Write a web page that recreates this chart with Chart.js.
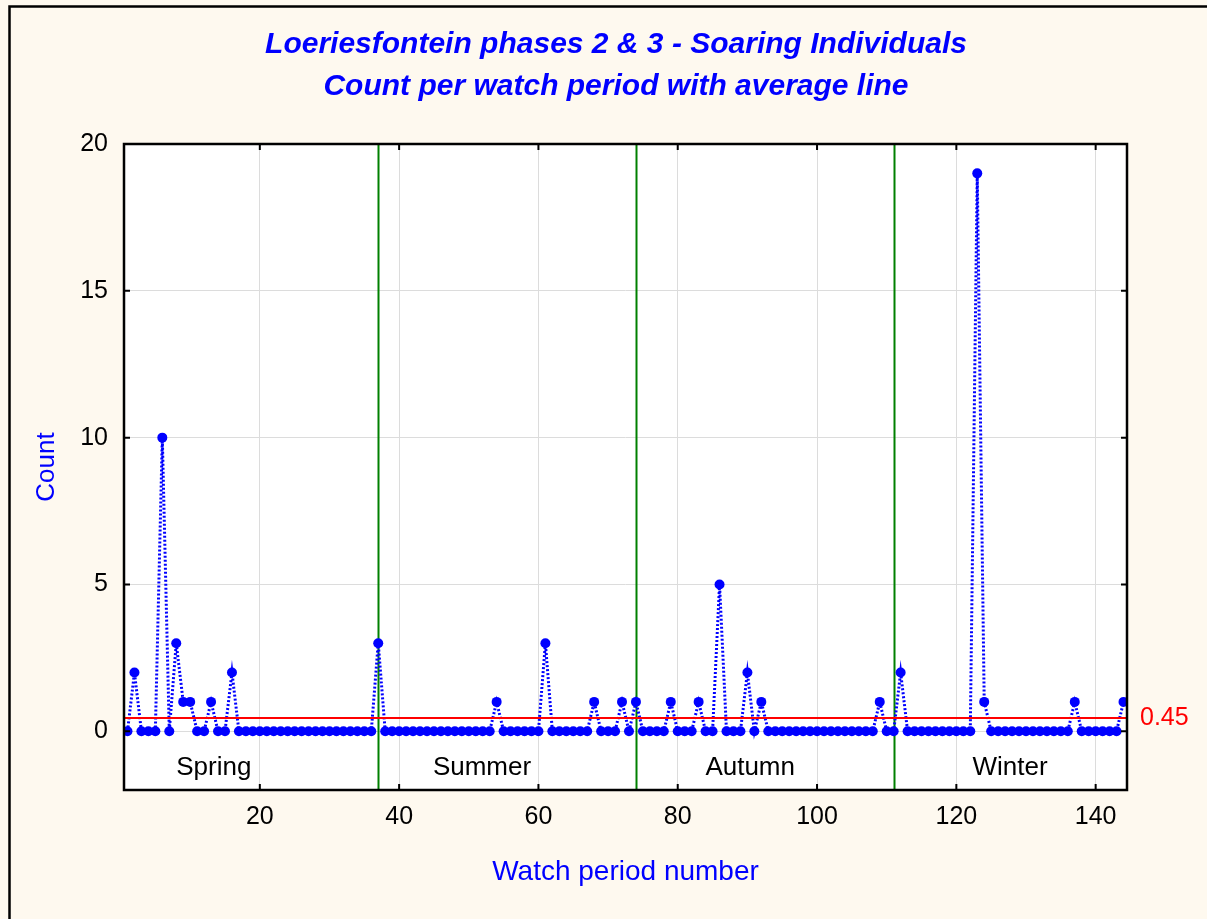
<!DOCTYPE html>
<html>
<head>
<meta charset="utf-8">
<title>Loeriesfontein phases 2 &amp; 3 - Soaring Individuals</title>
<script src="https://cdn.jsdelivr.net/npm/chart.js@4.4.0/dist/chart.umd.min.js"></script>
<style>
  html, body { margin: 0; padding: 0; background: #FEF9EF; }
  #wrap { width: 1207px; height: 919px; }
  canvas { display: block; }
</style>
</head>
<body>
<div id="wrap"><canvas id="chart" width="1207" height="919"></canvas></div>
<script>
// Soaring individuals counted in each watch period, grouped by season
const springCounts = [0, 2, 0, 0, 0, 10, 0, 3, 1, 1, 0, 0, 1, 0, 0, 2,
                      0, 0, 0, 0, 0, 0, 0, 0, 0, 0, 0, 0, 0, 0, 0, 0, 0, 0, 0, 0];           // periods 1-36
const summerCounts = [3, 0, 0, 0, 0, 0, 0, 0, 0, 0, 0, 0, 0, 0, 0, 0, 0, 1, 0, 0, 0, 0,
                      0, 0, 3, 0, 0, 0, 0, 0, 0, 1, 0, 0, 0, 1, 0];                        // periods 37-73
const autumnCounts = [1, 0, 0, 0, 0, 1, 0, 0, 0, 1, 0, 0, 5, 0, 0, 0, 2, 0, 1,
                      0, 0, 0, 0, 0, 0, 0, 0, 0, 0, 0, 0, 0, 0, 0, 0, 1, 0];               // periods 74-110
const winterCounts = [0, 2, 0, 0, 0, 0, 0, 0, 0, 0, 0, 0, 19, 1, 0, 0, 0, 0, 0, 0,
                      0, 0, 0, 0, 0, 0, 1, 0, 0, 0, 0, 0, 0, 1];                           // periods 111-144

const seasonNames = ['Spring', 'Summer', 'Autumn', 'Winter'];
const seasonStarts = [37, 74, 111];          // first watch period of summer, autumn, winter
const seasonLabelPeriod = [13.4, 51.9, 90.4, 127.7];
const seasonLabelCount = -1.25;
const averageCount = 0.45;

const xTicks = [20, 40, 60, 80, 100, 120, 140];
const yTicks = [0, 5, 10, 15, 20];

const counts = [...springCounts, ...summerCounts, ...autumnCounts, ...winterCounts];
const periods = counts.map((_, i) => i + 1);

const FONT = "'Liberation Sans', Arial, Helvetica, sans-serif";
const BLUE = '#0000FF';

const decorations = {
  id: 'decorations',
  beforeDraw(chart) {
    const { ctx, chartArea: a } = chart;
    ctx.save();
    ctx.fillStyle = '#FEF9EF';
    ctx.fillRect(0, 0, chart.width, chart.height);
    ctx.strokeStyle = '#000';
    ctx.lineWidth = 2.5;
    ctx.strokeRect(9.5, 6.5, chart.width + 20, chart.height + 20);
    ctx.fillStyle = '#FFFFFF';
    ctx.fillRect(a.left, a.top, a.right - a.left, a.bottom - a.top);
    ctx.restore();
  },
  beforeDatasetsDraw(chart) {
    const { ctx, chartArea: a, scales: { x, y } } = chart;
    ctx.save();
    // season dividers
    ctx.strokeStyle = '#008000';
    ctx.lineWidth = 2;
    seasonStarts.forEach(p => {
      const px = Math.round(x.getPixelForValue(p)) + 0.5;
      ctx.beginPath();
      ctx.moveTo(px, a.top);
      ctx.lineTo(px, a.bottom);
      ctx.stroke();
    });
    // season names
    ctx.fillStyle = '#000';
    ctx.font = `26px ${FONT}`;
    ctx.textAlign = 'center';
    ctx.textBaseline = 'middle';
    seasonNames.forEach((name, i) => {
      ctx.fillText(name, x.getPixelForValue(seasonLabelPeriod[i]), y.getPixelForValue(seasonLabelCount));
    });
    ctx.restore();
  },
  afterDatasetsDraw(chart) {
    const { ctx, chartArea: a, scales: { x, y } } = chart;
    ctx.save();
    // average line
    const py = y.getPixelForValue(averageCount);
    ctx.strokeStyle = '#FF0000';
    ctx.lineWidth = 2;
    ctx.beginPath();
    ctx.moveTo(a.left, py);
    ctx.lineTo(a.right, py);
    ctx.stroke();
    // inward tick marks on all four sides
    ctx.strokeStyle = '#000';
    ctx.lineWidth = 2;
    const len = 6;
    xTicks.forEach(v => {
      const px = x.getPixelForValue(v);
      ctx.beginPath();
      ctx.moveTo(px, a.bottom); ctx.lineTo(px, a.bottom - len);
      ctx.moveTo(px, a.top); ctx.lineTo(px, a.top + len);
      ctx.stroke();
    });
    yTicks.forEach(v => {
      const pyt = y.getPixelForValue(v);
      ctx.beginPath();
      ctx.moveTo(a.left, pyt); ctx.lineTo(a.left + len, pyt);
      ctx.moveTo(a.right, pyt); ctx.lineTo(a.right - len, pyt);
      ctx.stroke();
    });
    // plot frame
    ctx.lineWidth = 2.5;
    ctx.strokeRect(a.left, a.top, a.right - a.left, a.bottom - a.top);
    ctx.restore();
  }
};

new Chart(document.getElementById('chart'), {
  type: 'line',
  data: {
    datasets: [{
      label: 'Count',
      data: periods.map((p, i) => ({ x: p, y: counts[i] })),
      borderColor: BLUE,
      borderWidth: 3,
      borderDash: [2, 2],
      pointRadius: 5,
      pointBackgroundColor: BLUE,
      pointBorderWidth: 0,
      tension: 0,
      clip: 0
    }]
  },
  options: {
    responsive: false,
    animation: false,
    devicePixelRatio: 1,
    layout: { padding: { left: 25, right: 0, top: 0, bottom: 0 } },
    plugins: {
      legend: { display: false },
      tooltip: { enabled: false },
      title: {
        display: true,
        text: ['Loeriesfontein phases 2 & 3 - Soaring Individuals', 'Count per watch period with average line'],
        color: BLUE,
        font: { family: FONT, size: 30, weight: 'bold', style: 'italic', lineHeight: '42px' },
        padding: { top: 24, bottom: 36 }
      }
    },
    scales: {
      x: {
        type: 'linear',
        min: 0.5,
        max: 144.5,
        afterBuildTicks: s => { s.ticks = xTicks.map(v => ({ value: v })); },
        afterFit: s => { s.height = 129; },
        ticks: { autoSkip: false, maxRotation: 0, color: '#000', padding: 12, font: { family: FONT, size: 25 } },
        grid: { color: '#DCDCDC', lineWidth: 1, drawTicks: false },
        border: { display: false },
        title: { display: true, text: 'Watch period number', color: BLUE, padding: { top: 0, bottom: 30 }, font: { family: FONT, size: 28 } }
      },
      y: {
        type: 'linear',
        position: 'left',
        min: -2,
        max: 20,
        afterBuildTicks: s => { s.ticks = yTicks.map(v => ({ value: v })); },
        afterFit: s => { s.width = 99; },
        ticks: { color: '#000', padding: 16, font: { family: FONT, size: 25 } },
        grid: { color: '#DCDCDC', lineWidth: 1, drawTicks: false },
        border: { display: false },
        title: { display: true, text: 'Count', color: BLUE, padding: { top: 6, bottom: 0 }, font: { family: FONT, size: 26 } }
      },
      avg: {
        type: 'linear',
        position: 'right',
        min: -2,
        max: 20,
        afterBuildTicks: s => { s.ticks = [{ value: averageCount }]; },
        afterFit: s => { s.width = 80; },
        ticks: { color: '#FF0000', padding: 13, font: { family: FONT, size: 25 }, callback: v => v.toFixed(2) },
        grid: { display: false, drawTicks: false },
        border: { display: false }
      }
    }
  },
  plugins: [decorations]
});
</script>
</body>
</html>
